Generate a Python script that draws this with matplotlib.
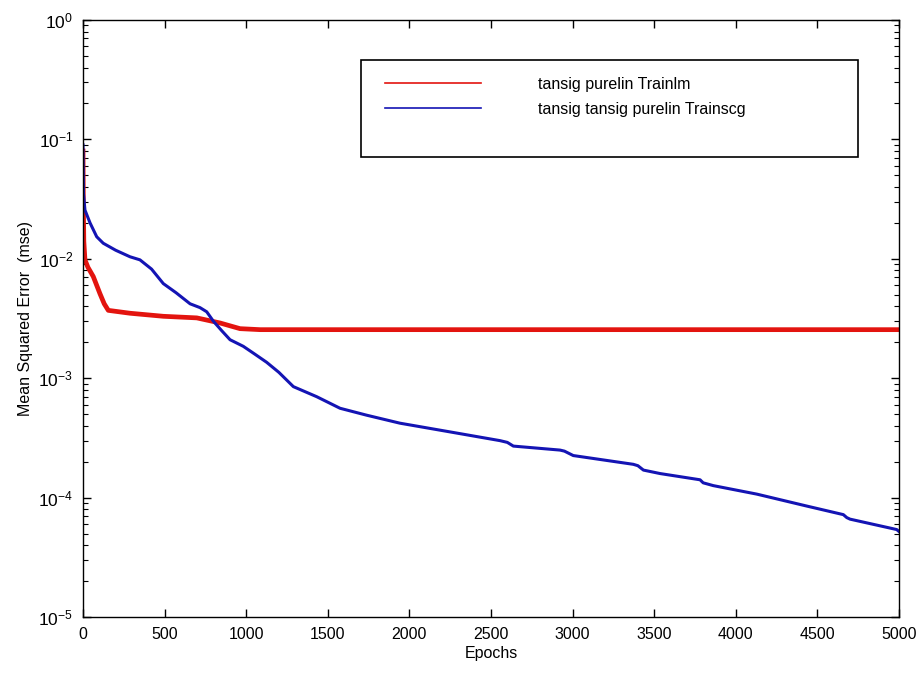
import numpy as np
import matplotlib
matplotlib.use("Agg")
import matplotlib.pyplot as plt
from matplotlib.lines import Line2D
from matplotlib.patches import Rectangle
from matplotlib.ticker import LogLocator, FixedLocator

plt.rcParams['font.family'] = ['Liberation Sans', 'DejaVu Sans']
plt.rcParams['mathtext.fontset'] = 'custom'
plt.rcParams['mathtext.rm'] = 'Liberation Sans'
plt.rcParams['axes.unicode_minus'] = False

# red curve : tansig purelin Trainlm
lm_epochs = [0, 2, 5, 12, 30, 63, 104, 130, 155, 288, 492, 697, 840, 962, 1085, 5000]
lm_mse = [0.08, 0.03, 0.014, 0.0098, 0.0085, 0.0071, 0.0051, 0.0042, 0.0037,
          0.0035, 0.0033, 0.0032, 0.0029, 0.0026, 0.00255, 0.00255]

# blue curve : tansig tansig purelin Trainscg
scg_epochs = [0, 3, 12, 43, 84, 124, 200, 288, 349, 420, 492, 570, 656, 717, 758,
              799, 850, 901, 982, 1050, 1125, 1200, 1289, 1432, 1575, 1738, 1942,
              2249, 2555, 2600, 2637, 2923, 2950, 3004, 3372, 3400, 3434, 3536,
              3781, 3800, 3862, 4128, 4434, 4659, 4680, 4700, 4986, 5000]
scg_mse = [0.09, 0.035, 0.0256, 0.020, 0.0153, 0.0135, 0.0118, 0.0104, 0.0098,
           0.0082, 0.0062, 0.0052, 0.0042, 0.0039, 0.0036, 0.0030, 0.0025, 0.0021,
           0.00185, 0.0016, 0.00136, 0.00112, 0.00085, 0.00070, 0.00056, 0.00049,
           0.00042, 0.000355, 0.00030, 0.00029, 0.00027, 0.00025, 0.000245,
           0.000225, 0.00019, 0.000185, 0.00017, 0.000159, 0.000141, 0.000133,
           0.000126, 0.000107, 0.000085, 0.000072, 0.000068, 0.000066, 0.000054,
           0.000052]

labels = ['tansig purelin Trainlm', 'tansig tansig purelin Trainscg']
red = '#e3140f'
blue = '#1414b4'

fig = plt.figure(figsize=(9.22, 6.78), dpi=100)
ax = fig.add_axes([83/922, 1-617/678, 816/922, 597/678])

ax.plot(lm_epochs, lm_mse, color=red, lw=3.4)
ax.plot(scg_epochs, scg_mse, color=blue, lw=2.2)

ax.set_yscale('log')
ax.set_xlim(0, 5000)
ax.set_ylim(1e-5, 1)
ax.xaxis.set_major_locator(FixedLocator(np.arange(0, 5001, 500)))
ax.yaxis.set_major_locator(LogLocator(base=10, numticks=10))
ax.yaxis.set_minor_locator(LogLocator(base=10, subs=np.arange(2, 10), numticks=20))
ax.tick_params(which='both', direction='in', top=True, right=True, labelsize=11.5)
ax.tick_params(which='major', length=6, width=1, pad=7)
ax.tick_params(which='minor', length=3.5, width=0.8)
ax.tick_params(axis='y', labelsize=12.5)
for s in ax.spines.values():
    s.set_linewidth(1)

ax.set_xlabel('Epochs', fontsize=11.5, labelpad=3)
ax.set_ylabel('Mean Squared Error  (mse)', fontsize=11.5, labelpad=4)

# legend box
fig.patches.append(Rectangle((361/922, 1-157/678), 497/922, 97/678,
                             transform=fig.transFigure, fill=False,
                             edgecolor='black', lw=1.2, zorder=5))
handles = [Line2D([], [], color=red, lw=1.2), Line2D([], [], color=blue, lw=1.2)]
fig.legend(handles, labels, loc='upper left', bbox_to_anchor=(385/922, 1-77/678),
           frameon=False, fontsize=11.5, handlelength=6.0, handletextpad=3.6,
           labelspacing=0.6, borderpad=0, borderaxespad=0)

fig.savefig('out.png', dpi=100)
